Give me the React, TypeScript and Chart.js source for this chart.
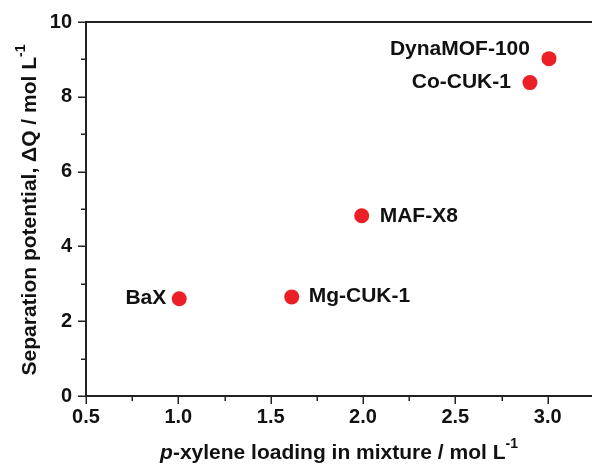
import { useEffect, useRef } from "react";
import { Chart, registerables } from "chart.js";

Chart.register(...registerables);

// Adsorbent materials and their measured values
const materials = ["BaX", "Mg-CUK-1", "MAF-X8", "Co-CUK-1", "DynaMOF-100"];
const pxyleneLoading = [1.005, 1.614, 1.993, 2.904, 3.007];
const separationPotential = [2.6, 2.65, 4.82, 8.38, 9.02];

// Axis ticks
const xTicks = [0.5, 1.0, 1.5, 2.0, 2.5, 3.0];
const xMinorTicks = [0.75, 1.25, 1.75, 2.25, 2.75, 3.25];
const yTicks = [0, 2, 4, 6, 8, 10];
const yMinorTicks = [1, 3, 5, 7, 9];

// Label placement relative to each marker (pixels)
const labelPlacement = [
  { dx: -13, dy: -1, align: "right" },
  { dx: 17, dy: -1, align: "left" },
  { dx: 18, dy: 0, align: "left" },
  { dx: -19, dy: 0, align: "right" },
  { dx: -19, dy: -9, align: "right" },
];

const FONT = "'Liberation Sans', Arial, sans-serif";
const INK = "#111111";

const framePlugin = {
  id: "frame",
  afterDraw(chart: any) {
    const { ctx, chartArea } = chart;
    const xs = chart.scales.x;
    const ys = chart.scales.y;
    const { left, right, top, bottom } = chartArea;
    ctx.save();
    ctx.strokeStyle = "#222222";
    ctx.lineWidth = 2;
    ctx.lineCap = "butt";
    // frame: left, bottom, top
    ctx.beginPath();
    ctx.moveTo(left, top);
    ctx.lineTo(right, top);
    ctx.moveTo(left, top - 1);
    ctx.lineTo(left, bottom + 1);
    ctx.moveTo(left - 1, bottom);
    ctx.lineTo(right, bottom);
    ctx.stroke();
    // tick marks (outward)
    ctx.lineWidth = 1.5;
    ctx.beginPath();
    xTicks.forEach((v) => {
      const px = Math.round(xs.getPixelForValue(v)) + 0.25;
      ctx.moveTo(px, bottom);
      ctx.lineTo(px, bottom + 8);
    });
    xMinorTicks.forEach((v) => {
      const px = Math.round(xs.getPixelForValue(v)) + 0.25;
      if (px > right) return;
      ctx.moveTo(px, bottom);
      ctx.lineTo(px, bottom + 5);
    });
    yTicks.forEach((v) => {
      const py = Math.round(ys.getPixelForValue(v)) + 0.25;
      ctx.moveTo(left, py);
      ctx.lineTo(left - 8, py);
    });
    yMinorTicks.forEach((v) => {
      const py = Math.round(ys.getPixelForValue(v)) + 0.25;
      ctx.moveTo(left, py);
      ctx.lineTo(left - 5, py);
    });
    ctx.stroke();

    // point labels
    const meta = chart.getDatasetMeta(0);
    ctx.fillStyle = INK;
    ctx.font = `bold 21px ${FONT}`;
    ctx.textBaseline = "middle";
    meta.data.forEach((pt: any, i: number) => {
      const p = labelPlacement[i];
      ctx.textAlign = p.align;
      ctx.fillText(materials[i], pt.x + p.dx, pt.y + p.dy);
    });

    // x axis title
    const xParts = [
      { t: "p", font: `italic bold 21px ${FONT}`, rise: 0 },
      { t: "-xylene loading in mixture / mol L", font: `bold 21px ${FONT}`, rise: 0 },
      { t: "-1", font: `bold 14px ${FONT}`, rise: 11 },
    ];
    drawParts(ctx, xParts, (left + right) / 2, 459, 0);

    // y axis title (rotated)
    const yParts = [
      { t: "Separation potential, ΔQ / mol L", font: `bold 21px ${FONT}`, rise: 0 },
      { t: "-1", font: `bold 14px ${FONT}`, rise: 11 },
    ];
    drawParts(ctx, yParts, 36, 210, -Math.PI / 2);
    ctx.restore();
  },
};

function drawParts(ctx: any, parts: any[], cx: number, cy: number, rot: number) {
  let total = 0;
  parts.forEach((p) => {
    ctx.font = p.font;
    total += ctx.measureText(p.t).width;
  });
  ctx.save();
  ctx.translate(cx, cy);
  ctx.rotate(rot);
  ctx.textAlign = "left";
  ctx.textBaseline = "alphabetic";
  ctx.fillStyle = INK;
  let x = -total / 2;
  parts.forEach((p) => {
    ctx.font = p.font;
    ctx.fillText(p.t, x, -p.rise);
    x += ctx.measureText(p.t).width;
  });
  ctx.restore();
}

export default function App() {
  const ref = useRef<HTMLCanvasElement>(null);

  useEffect(() => {
    if (!ref.current) return;
    const chart = new Chart(ref.current, {
      type: "scatter",
      data: {
        datasets: [
          {
            data: pxyleneLoading.map((x, i) => ({ x, y: separationPotential[i] })),
            backgroundColor: "#ec1f27",
            borderWidth: 0,
            pointRadius: 7.5,
            pointHoverRadius: 7.5,
          },
        ],
      },
      options: {
        responsive: false,
        animation: false,
        events: [],
        layout: { autoPadding: false, padding: { top: 22, right: 0, left: 0, bottom: 0 } },
        plugins: { legend: { display: false }, tooltip: { enabled: false } },
        scales: {
          x: {
            type: "linear",
            min: 0.5,
            max: 3.24,
            grid: { display: false, drawTicks: false },
            border: { display: false },
            afterBuildTicks: (s: any) => {
              s.ticks = xTicks.map((v) => ({ value: v }));
            },
            afterFit: (s: any) => {
              s.height = 69;
              s.paddingLeft = 0;
              s.paddingRight = 0;
              s.paddingTop = 0;
              s.paddingBottom = 0;
            },
            ticks: {
              padding: 9,
              color: INK,
              font: { family: FONT, size: 20, weight: "bold" },
              callback: (v: any) => Number(v).toFixed(1),
            },
          },
          y: {
            type: "linear",
            min: 0,
            max: 10,
            grid: { display: false, drawTicks: false },
            border: { display: false },
            afterBuildTicks: (s: any) => {
              s.ticks = yTicks.map((v) => ({ value: v }));
            },
            afterFit: (s: any) => {
              s.width = 86;
              s.paddingLeft = 0;
              s.paddingRight = 0;
              s.paddingTop = 0;
              s.paddingBottom = 0;
            },
            ticks: {
              padding: 14,
              color: INK,
              font: { family: FONT, size: 20, weight: "bold" },
              callback: (v: any) => String(v),
            },
          },
        },
      },
      plugins: [framePlugin],
    });
    return () => chart.destroy();
  }, []);

  return (
    <div style={{ position: "fixed", left: 0, top: 0, width: 592, height: 465, background: "#fff" }}>
      <canvas ref={ref} width={592} height={465} />
    </div>
  );
}
